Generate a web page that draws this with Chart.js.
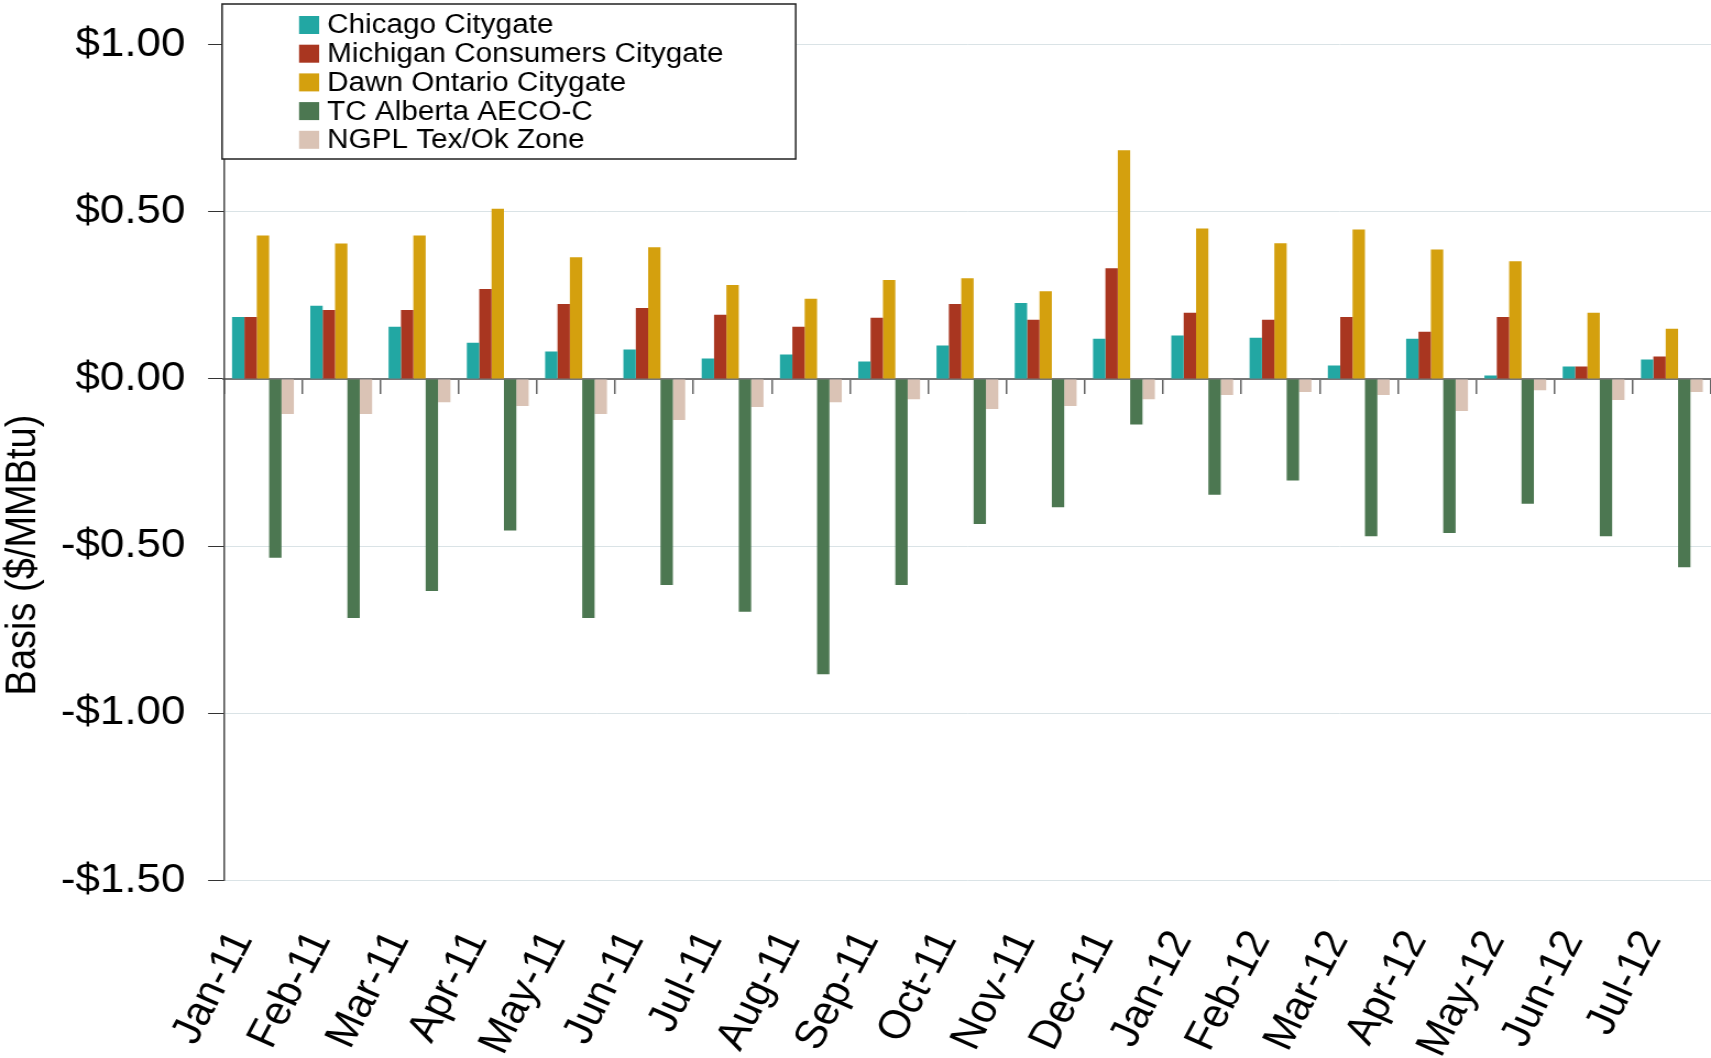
<!DOCTYPE html>
<html><head><meta charset="utf-8">
<script src="https://cdn.jsdelivr.net/npm/chart.js@4"></script>
<style>
html,body{margin:0;padding:0;background:#fff;overflow:hidden}
#wrap{width:1711px;height:1058px;overflow:hidden;position:relative}
#c{transform:scaleX(1.10032);transform-origin:0 0;display:block}
</style>
</head><body>
<div id="wrap"><canvas id="c" width="1555" height="1058" style="width:1555px;height:1058px"></canvas></div>
<script>
const months = ["Jan-11","Feb-11","Mar-11","Apr-11","May-11","Jun-11","Jul-11","Aug-11","Sep-11","Oct-11","Nov-11","Dec-11","Jan-12","Feb-12","Mar-12","Apr-12","May-12","Jun-12","Jul-12"];
const chicago  = [0.185, 0.219, 0.156, 0.108, 0.082, 0.088, 0.061, 0.073, 0.052, 0.100, 0.227, 0.120, 0.130, 0.123, 0.040, 0.120, 0.010, 0.037, 0.058];
const michigan = [0.185, 0.206, 0.206, 0.269, 0.224, 0.212, 0.192, 0.156, 0.183, 0.224, 0.177, 0.331, 0.198, 0.177, 0.185, 0.141, 0.185, 0.037, 0.067];
const dawn     = [0.429, 0.405, 0.429, 0.509, 0.364, 0.394, 0.281, 0.240, 0.296, 0.301, 0.262, 0.684, 0.450, 0.406, 0.447, 0.387, 0.352, 0.198, 0.150];
const aeco     = [-0.535, -0.715, -0.634, -0.453, -0.715, -0.616, -0.696, -0.883, -0.616, -0.434, -0.384, -0.136, -0.346, -0.304, -0.470, -0.461, -0.373, -0.470, -0.563];
const ngpl     = [-0.105, -0.105, -0.070, -0.081, -0.105, -0.123, -0.084, -0.070, -0.061, -0.090, -0.081, -0.061, -0.048, -0.039, -0.048, -0.096, -0.034, -0.063, -0.039];
const seriesNames = ["Chicago Citygate","Michigan Consumers Citygate","Dawn Ontario Citygate","TC Alberta AECO-C","NGPL Tex/Ok Zone"];
const yTicks = [-1.5, -1.0, -0.5, 0, 0.5, 1.0];

const FONT = '"Liberation Sans", Arial, sans-serif';
const colors = ['#22a7a3', '#a93620', '#d4a00e', '#4c7751', '#dac3b5'];

function fmt(v){ const a = Math.abs(v).toFixed(2); return (v < 0 ? '-$' : '$') + a; }

const legendBox = {
  id: 'legendBox',
  afterDraw(chart){
    const ctx = chart.ctx;
    const bx = 201.8, by = 4, bw = 521.4, bh = 155;
    ctx.save();
    ctx.fillStyle = '#fff';
    ctx.fillRect(bx, by, bw, bh);
    ctx.strokeStyle = '#222';
    ctx.lineWidth = 1.5;
    ctx.strokeRect(bx, by, bw, bh);
    ctx.font = '27px ' + FONT;
    ctx.textBaseline = 'middle';
    ctx.textAlign = 'left';
    chart.data.datasets.forEach((ds, i) => {
      const cy = 25 + i * 28.7;
      ctx.fillStyle = ds.backgroundColor;
      ctx.fillRect(271.8, cy - 9, 18.2, 18);
      ctx.fillStyle = '#000';
      ctx.fillText(ds.label, 297.3, cy + 1);
    });
    ctx.restore();
  }
};

const yTitle = {
  id: 'yTitle',
  afterDraw(chart){
    const ctx = chart.ctx;
    ctx.save();
    ctx.translate(21.8, 555);
    ctx.rotate(-Math.PI / 2);
    ctx.font = '38px ' + FONT;
    ctx.fillStyle = '#000';
    ctx.textAlign = 'center';
    ctx.textBaseline = 'middle';
    ctx.fillText('Basis ($/MMBtu)', 0, 0);
    ctx.restore();
  }
};

const seriesData = [chicago, michigan, dawn, aeco, ngpl];

new Chart(document.getElementById('c'), {
  type: 'bar',
  data: {
    labels: months,
    datasets: seriesData.map((d, i) => ({
      label: seriesNames[i],
      data: d,
      backgroundColor: colors[i],
      borderWidth: 0,
      categoryPercentage: 0.79,
      barPercentage: 1.0
    }))
  },
  options: {
    responsive: false,
    animation: false,
    devicePixelRatio: 1,
    layout: { padding: { left: 55.2, top: 41.5, right: 0, bottom: 0 } },
    plugins: { legend: { display: false }, tooltip: { enabled: false } },
    scales: {
      x: {
        type: 'category',
        offset: true,
        grid: { display: false, drawTicks: true, tickLength: 43 },
        border: { display: false },
        ticks: {
          autoSkip: false, maxRotation: 64, minRotation: 64,
          padding: 0, labelOffset: -19,
          color: '#000', font: { family: FONT, size: 40 }
        },
        afterFit(s){ s.height = 177.4; s.paddingLeft = 0; s.paddingRight = 0; }
      },
      x2: {
        type: 'category',
        position: { y: 0 },
        offset: true,
        grid: { offset: true, drawOnChartArea: false, drawTicks: true, tickLength: 14, tickColor: '#666', lineWidth: 1.5 },
        border: { display: true, color: '#777', width: 2 },
        ticks: { display: false },
        afterFit(s){ s.paddingLeft = 0; s.paddingRight = 0; },
        z: 1
      },
      y: {
        min: -1.5, max: 1.0,
        afterBuildTicks(s){ s.ticks = yTicks.map(v => ({ value: v })); },
        ticks: { padding: 20.5, color: '#000', font: { family: FONT, size: 40 }, callback: v => fmt(v) },
        grid: { color: '#dae3e6', lineWidth: 1, tickColor: '#333', tickLength: 14.3 },
        border: { display: true, color: '#444', width: 1.5 },
        afterFit(s){ s.width = 148.2; }
      }
    }
  },
  plugins: [legendBox, yTitle]
});
</script>
</body></html>
